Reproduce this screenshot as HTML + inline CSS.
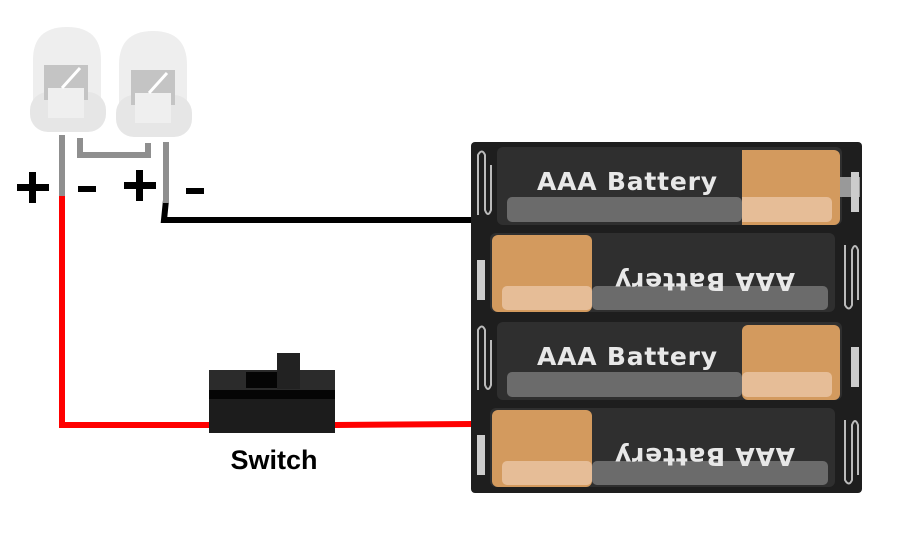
<!DOCTYPE html>
<html><head><meta charset="utf-8"><style>
html,body{margin:0;padding:0;background:#fff}
svg{display:block}
</style></head><body>
<svg width="916" height="538" viewBox="0 0 916 538" xmlns="http://www.w3.org/2000/svg" font-family="DejaVu Sans, Liberation Sans, sans-serif">
<polyline points="62,195 62,425 210,425" fill="none" stroke="#f00" stroke-width="6"/>
<line x1="335" y1="425" x2="472" y2="424" stroke="#f00" stroke-width="6"/>
<polyline points="166,200 164,220 472,220" fill="none" stroke="#000" stroke-width="6"/>
<line x1="62" y1="135" x2="62" y2="196" stroke="#8f8f8f" stroke-width="6"/>
<polyline points="80,138 80,155 148,155 148,143" fill="none" stroke="#8f8f8f" stroke-width="6"/>
<line x1="166" y1="142" x2="166" y2="203" stroke="#8f8f8f" stroke-width="6"/>
<g>
<path d="M33,100 L33,60 Q33,27 67,27 Q101,27 101,60 L101,100 Z" fill="#eeeeee"/>
<rect x="30" y="92" width="76" height="40" rx="18" fill="#e6e6e6"/>
<rect x="44" y="65" width="44" height="35" fill="#c4c4c4"/>
<rect x="48" y="88" width="36" height="30" fill="#efefef"/>
<line x1="62" y1="88" x2="80" y2="68" stroke="#fff" stroke-width="3"/>
</g>
<g>
<path d="M119,105 L119,65 Q119,31 153,31 Q187,31 187,65 L187,105 Z" fill="#eeeeee"/>
<rect x="116" y="95" width="76" height="42" rx="18" fill="#e6e6e6"/>
<rect x="131" y="70" width="44" height="35" fill="#c4c4c4"/>
<rect x="135" y="93" width="36" height="30" fill="#efefef"/>
<line x1="149" y1="93" x2="167" y2="73" stroke="#fff" stroke-width="3"/>
</g>
<g fill="#000">
<rect x="17" y="184" width="32" height="7"/><rect x="29" y="172" width="7" height="31"/>
<rect x="78" y="186" width="18" height="6"/>
<rect x="124" y="182" width="32" height="7"/><rect x="136" y="170" width="7" height="31"/>
<rect x="186" y="188" width="18" height="6"/>
</g>
<rect x="209" y="370" width="126" height="63" fill="#1c1c1c"/>
<rect x="209" y="370" width="126" height="20" fill="#2b2b2b"/>
<rect x="246" y="372" width="31" height="16" fill="#050505"/>
<rect x="277" y="353" width="23" height="36" fill="#222"/>
<rect x="209" y="390" width="126" height="9" fill="#050505"/>
<text x="274" y="469" text-anchor="middle" font-size="27" font-weight="bold" fill="#000" font-family="Liberation Sans, sans-serif">Switch</text>
<rect x="471" y="142" width="391" height="351" rx="4" fill="#1e1e1e"/>
<g>
<rect x="497" y="147" width="345" height="78" rx="6" fill="#2f2f2f"/>
<rect x="742" y="150" width="98" height="75" rx="6" fill="#d39a5e"/>
<rect x="742" y="150" width="10" height="75" fill="#d39a5e"/>
<rect x="507" y="197" width="235" height="25" rx="5" fill="#6b6b6b"/>
<rect x="742" y="197" width="90" height="25" rx="5" fill="#e6bd97"/>
<rect x="742" y="197" width="10" height="25" fill="#e6bd97"/>
<text x="627" y="190" text-anchor="middle" font-size="25" font-weight="bold" fill="#e8e8e8" textLength="180">AAA Battery</text>
<rect x="840" y="177" width="20" height="20" fill="#999"/>
<rect x="851" y="172" width="8" height="40" fill="#ccc"/>
</g>
<g>
<rect x="490" y="233" width="345" height="79" rx="6" fill="#2f2f2f"/>
<rect x="492" y="235" width="100" height="77" rx="6" fill="#d39a5e"/>
<rect x="502" y="286" width="90" height="24" rx="5" fill="#e6bd97"/>
<rect x="592" y="286" width="236" height="24" rx="5" fill="#6b6b6b"/>
<text x="0" y="0" text-anchor="middle" font-size="25" font-weight="bold" fill="#e8e8e8" textLength="180" transform="translate(705,273) rotate(180)">AAA Battery</text>
<rect x="477" y="260" width="8" height="40" fill="#ccc"/>
</g>
<g transform="translate(0,175)">
<rect x="497" y="147" width="345" height="78" rx="6" fill="#2f2f2f"/>
<rect x="742" y="150" width="98" height="75" rx="6" fill="#d39a5e"/>
<rect x="507" y="197" width="235" height="25" rx="5" fill="#6b6b6b"/>
<rect x="742" y="197" width="90" height="25" rx="5" fill="#e6bd97"/>
<text x="627" y="190" text-anchor="middle" font-size="25" font-weight="bold" fill="#e8e8e8" textLength="180">AAA Battery</text>
<rect x="851" y="172" width="8" height="40" fill="#ccc"/>
</g>
<g transform="translate(0,175)">
<rect x="490" y="233" width="345" height="79" rx="6" fill="#2f2f2f"/>
<rect x="492" y="235" width="100" height="77" rx="6" fill="#d39a5e"/>
<rect x="502" y="286" width="90" height="24" rx="5" fill="#e6bd97"/>
<rect x="592" y="286" width="236" height="24" rx="5" fill="#6b6b6b"/>
<text x="0" y="0" text-anchor="middle" font-size="25" font-weight="bold" fill="#e8e8e8" textLength="180" transform="translate(705,273) rotate(180)">AAA Battery</text>
<rect x="477" y="260" width="8" height="40" fill="#ccc"/>
</g>
<g fill="none" stroke="#bbb" stroke-width="2">
<path d="M478,215 L478,155 Q482,148 485,155 L485,210 Q488,218 491,210 L491,165"/>
<path d="M845,245 L845,305 Q849,312 852,305 L852,250 Q855,242 858,250 L858,300"/>
<path d="M478,390 L478,330 Q482,323 485,330 L485,385 Q488,393 491,385 L491,340"/>
<path d="M845,420 L845,480 Q849,487 852,480 L852,425 Q855,417 858,425 L858,475"/>
</g>
</svg>
</body></html>
